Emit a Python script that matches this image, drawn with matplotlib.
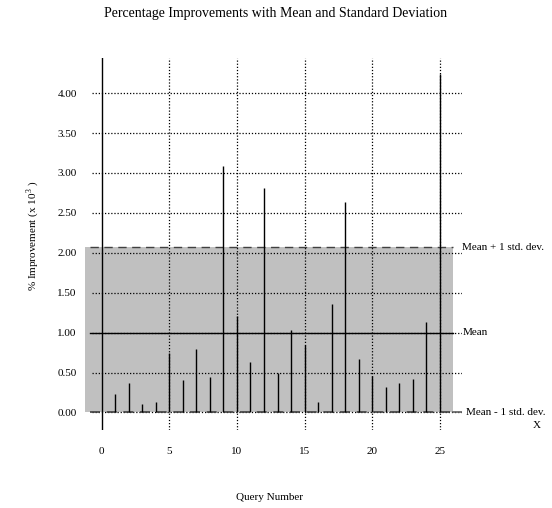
import matplotlib
matplotlib.use("Agg")
import matplotlib.pyplot as plt

# query numbers and % improvement (x 10^3)
queries = list(range(1, 26))
improvement = [0.23, 0.37, 0.10, 0.13, 0.74, 0.41, 0.80, 0.44, 3.09, 1.21,
               0.63, 2.81, 0.49, 1.03, 0.84, 0.13, 1.36, 2.63, 0.67, 0.46,
               0.32, 0.37, 0.42, 1.13, 4.24]

mean_val = 1.00
upper_val = 2.07   # mean + 1 std
lower_val = 0.00   # mean - 1 std (as drawn)

xticks = [0, 5, 10, 15, 20, 25]
yticks = [0.0, 0.5, 1.0, 1.5, 2.0, 2.5, 3.0, 3.5, 4.0]

plt.rcParams["font.family"] = ["Liberation Serif", "DejaVu Serif"]
plt.rcParams["mathtext.fontset"] = "custom"
plt.rcParams["mathtext.rm"] = "Liberation Serif"

W, H = 552, 508
fig = plt.figure(figsize=(W / 100, H / 100), dpi=100)
# axes box in pixels: x 85..462, y 58..430
ax = fig.add_axes([85 / W, 1 - 430 / H, (462 - 85) / W, (430 - 58) / H])
ax.set_xlim(-1.23, 26.63)
ax.set_ylim(-0.22, 4.44)
for s in ax.spines.values():
    s.set_visible(False)

# gray band for +-1 std
ax.fill_between([-1.23, 25.94], lower_val, upper_val, color="#c0c0c0", lw=0, zorder=0)

# dotted grid
for y in yticks:
    ax.plot([-0.74, 26.63], [y, y], color="black", lw=0.9, ls=(0, (1, 1.5)), zorder=1)
for x in xticks[1:]:
    ax.plot([x, x], [-0.22, 4.44], color="black", lw=0.9, ls=(0, (1, 1.5)), zorder=1)

# y axis line at query 0
ax.plot([0, 0], [-0.22, 4.44], color="black", lw=1.0, zorder=2)

# mean and std lines
ax.plot([-0.86, 25.94], [mean_val, mean_val], color="black", lw=1.0, zorder=2)
ax.plot([-0.86, 25.94], [upper_val, upper_val], color="#404040", lw=1.0, ls=(0, (6, 4)), zorder=2)
ax.plot([-0.86, 25.94], [lower_val, lower_val], color="#404040", lw=1.2, ls=(0, (6, 4)), zorder=2)
ax.plot([25.94, 26.7], [lower_val, lower_val], color="#606060", lw=1.2, zorder=2)

# impulse bars
ax.vlines(queries, 0, improvement, color="black", lw=1.0, zorder=3)

ax.set_xticks(xticks)
ax.set_yticks(yticks)
ax.set_xticklabels([str(x) for x in xticks], fontsize=8)
ax.set_yticklabels(["%.2f" % y for y in yticks], fontsize=8)
ax.tick_params(length=0)
ax.tick_params(axis="x", pad=12)
ax.tick_params(axis="y", pad=6)

ax.text(26.65, upper_val, "Mean + 1 std. dev.", fontsize=8, va="center", ha="left")
ax.text(26.65, mean_val, "Mean", fontsize=8, va="center", ha="left")
ax.text(26.95, lower_val, "Mean - 1 std. dev.", fontsize=8, va="center", ha="left")

fig.text(537 / W, 1 - 426 / H, "X", fontsize=8, ha="center", va="center")
fig.text(276 / W, 1 - 14 / H, "Percentage Improvements with Mean and Standard Deviation",
         fontsize=10, ha="center", va="center")
fig.text(270 / W, 1 - 498 / H, "Query Number", fontsize=8, ha="center", va="center")
fig.text(33 / W, 1 - 236 / H, r"% Improvement (x 10$^{3}$ )", fontsize=8,
         rotation=90, ha="center", va="center")

fig.savefig("out.png", dpi=100)
